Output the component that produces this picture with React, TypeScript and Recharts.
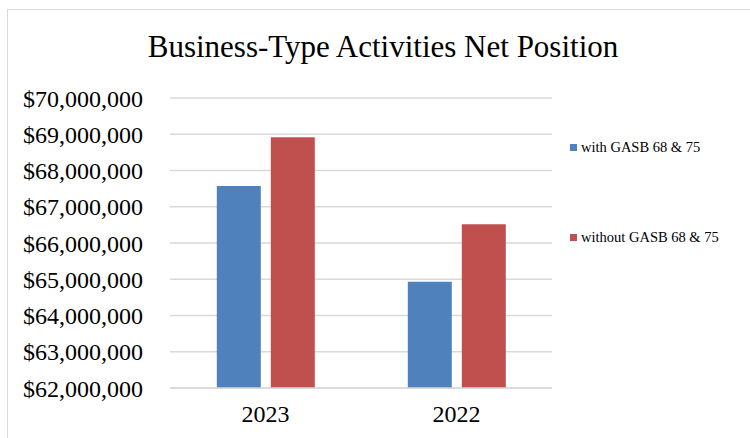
import { BarChart, Bar, XAxis, YAxis, CartesianGrid, Legend } from "recharts";

const years = ["2023", "2022"];
const withGasb = [67570000, 64930000];
const withoutGasb = [68920000, 66520000];
const yTicks = [62000000, 63000000, 64000000, 65000000, 66000000, 67000000, 68000000, 69000000, 70000000];
const seriesNames = ["with GASB 68 & 75", "without GASB 68 & 75"];

const data = years.map((year, i) => ({
  year,
  withGasb: withGasb[i],
  withoutGasb: withoutGasb[i],
}));

const font = "'Liberation Serif', 'Times New Roman', serif";

function LegendBox({ payload }: { payload?: any[] }) {
  return (
    <div style={{ fontFamily: font, fontSize: 14.5, color: "#000" }}>
      {(payload || []).map((p) => (
        <div
          key={p.value}
          style={{ display: "flex", alignItems: "center", height: 22, marginBottom: 68 }}
        >
          <span style={{ width: 7, height: 7, background: p.color, marginRight: 4, display: "inline-block" }} />
          <span>{p.value}</span>
        </div>
      ))}
    </div>
  );
}

export default function App() {
  return (
    <div style={{ position: "absolute", left: 0, top: 0, width: 750, height: 438, overflow: "hidden", background: "#fff" }}>
      <div style={{ position: "absolute", left: 7, top: 9, width: 780, height: 460, border: "1px solid #d9d9d9" }} />
      <div
        style={{
          position: "absolute",
          left: 0,
          top: 29,
          width: 766,
          textAlign: "center",
          fontFamily: font,
          fontSize: 31,
          lineHeight: "36px",
          color: "#000",
        }}
      >
        Business-Type Activities Net Position
      </div>
      <div style={{ position: "absolute", left: 0, top: 0 }}>
        <BarChart
          width={750}
          height={438}
          data={data}
          margin={{ top: 98, right: 198, bottom: 0, left: 0 }}
          barCategoryGap="24.5%"
          barGap={10}
        >
          <CartesianGrid vertical={false} stroke="#d9d9d9" strokeWidth={1.5} />
          <XAxis
            dataKey="year"
            height={50}
            tickLine={false}
            axisLine={{ stroke: "#d9d9d9", strokeWidth: 1.5 }}
            tickMargin={11}
            tick={{ fontFamily: font, fontSize: 24, fill: "#000" }}
          />
          <YAxis
            width={170}
            domain={[62000000, 70000000]}
            ticks={yTicks}
            interval={0}
            tickLine={false}
            axisLine={false}
            tickSize={0}
            tickMargin={27}
            tickFormatter={(v: number) => "$" + v.toLocaleString("en-US")}
            tick={{ fontFamily: font, fontSize: 24, fill: "#000" }}
          />
          <Legend
            layout="horizontal"
            verticalAlign="middle"
            content={<LegendBox />}
            wrapperStyle={{ position: "absolute", left: 570, top: 136, width: 180 }}
          />
          <Bar dataKey="withGasb" name={seriesNames[0]} fill="#4F81BD" isAnimationActive={false} />
          <Bar dataKey="withoutGasb" name={seriesNames[1]} fill="#C0504D" isAnimationActive={false} />
        </BarChart>
      </div>
    </div>
  );
}
